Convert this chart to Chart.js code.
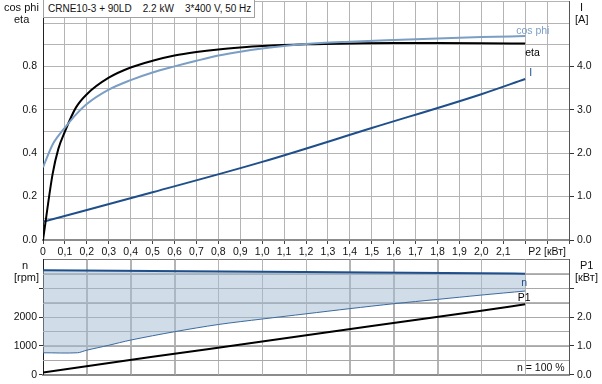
<!DOCTYPE html>
<html>
<head>
<meta charset="utf-8">
<script src="https://cdn.jsdelivr.net/npm/chart.js@4.4.1/dist/chart.umd.min.js"></script>
<style>
  body { margin: 0; background: #fff; font-family: "Liberation Sans", Arial, sans-serif; font-size: 10.5px; color: #111; }
  #wrap { position: relative; width: 602px; height: 384px; overflow: hidden; }
  canvas { position: absolute; left: 0; }
  .t { position: absolute; line-height: 12px; white-space: pre; font-size: 11px; }
  #title { position: absolute; left: 43px; top: 0; height: 17px; padding: 0 3px 0 4px; border: 1px solid #a0a0a0; border-top: none; background: #fff; line-height: 17px; white-space: pre; font-size: 10px; }
</style>
</head>
<body>
<div id="wrap">
  <canvas id="topChart" width="602" height="270" style="top:-8px"></canvas>
  <canvas id="bottomChart" width="602" height="134" style="top:250px"></canvas>
  <div id="title">CRNE10-3 + 90LD    2.2 kW    3*400 V, 50 Hz</div>
  <div class="t" style="left:4px;top:1px">cos phi</div>
  <div class="t" style="left:14px;top:13px">eta</div>
  <div class="t" style="left:580px;top:1px">I</div>
  <div class="t" style="left:575px;top:13px">[A]</div>
  <div class="t" style="left:22px;top:259px">n</div>
  <div class="t" style="left:14px;top:271px">[rpm]</div>
  <div class="t" style="left:580px;top:259px">P1</div>
  <div class="t" style="left:575px;top:271px">[кВт]</div>
  <div class="t" style="left:517px;top:361px;font-size:10.5px">n = 100 %</div>
</div>
<script>
// P2 [kW] points for the upper chart
const p2 = [0, 0.044, 0.07, 0.1, 0.15, 0.2, 0.3, 0.4, 0.5, 0.6, 0.7, 0.8, 0.9, 1.0, 1.2, 1.4, 1.6, 1.8, 2.0, 2.2];
const eta = [0, 0.305, 0.42, 0.50, 0.61, 0.672, 0.748, 0.795, 0.826, 0.85, 0.866, 0.878, 0.887, 0.894, 0.902, 0.906, 0.908, 0.908, 0.907, 0.905];
const cosPhi = [0.335, 0.44, 0.48, 0.518, 0.578, 0.627, 0.693, 0.737, 0.772, 0.80, 0.826, 0.85, 0.868, 0.882, 0.903, 0.914, 0.922, 0.929, 0.935, 0.94];

const iP2 = [0, 0.5, 1.0, 1.5, 2.0, 2.2];
const current = [0.42, 1.1, 1.8, 2.58, 3.36, 3.71];

// lower chart
const nP2 = [0, 0.5, 1.0, 1.5, 2.0, 2.2];
const speed = [3620, 3595, 3570, 3545, 3515, 3500];
const minP2 = [0, 0.157, 0.2, 0.3, 0.4, 0.6, 0.8, 1.0, 1.2, 1.4, 1.6, 1.8, 2.0, 2.2];
const minSpeed = [760, 760, 850, 1020, 1200, 1490, 1740, 1930, 2110, 2290, 2460, 2610, 2760, 2900];
const p1P2 = [0, 0.5, 1.0, 1.5, 2.0, 2.2];
const p1 = [0.08, 0.62, 1.15, 1.69, 2.22, 2.44];

const leftTicks = [0, 0.2, 0.4, 0.6, 0.8];
const currentTicks = [0, 1, 2, 3, 4];
const rpmTicks = [0, 1000, 2000];
const p1Ticks = [0, 1, 2];

Chart.defaults.font.family = '"Liberation Sans", Arial, sans-serif';
Chart.defaults.font.size = 10.5;
Chart.defaults.color = '#111';

const pts = (xs, ys) => xs.map((x, i) => ({ x: x, y: ys[i] }));
const near = (a, b) => Math.abs(a - b) < 1e-6;
const CLEAR = 'rgba(0,0,0,0)';
const GRID = '#b4b4b4';

const endLabels = {
    id: 'endLabels',
    afterDatasetsDraw(chart) {
        const ctx = chart.ctx;
        chart.data.datasets.forEach((ds, i) => {
            if (!ds.endLabel) return;
            const meta = chart.getDatasetMeta(i);
            const pt = meta.data[meta.data.length - 1];
            ctx.save();
            ctx.font = '10.5px "Liberation Sans", Arial, sans-serif';
            ctx.fillStyle = ds.endLabel.color;
            ctx.textAlign = ds.endLabel.align;
            ctx.textBaseline = 'middle';
            ctx.fillText(ds.endLabel.text, pt.x + ds.endLabel.dx, pt.y + ds.endLabel.dy);
            ctx.restore();
        });
    }
};

// the lower chart's grid would not show, so stroke it from the scale ticks
const tickGrid = {
    id: 'tickGrid',
    beforeDatasetsDraw(chart) {
        const { ctx, chartArea: a, scales } = chart;
        ctx.save();
        ctx.lineWidth = 1;
        ctx.strokeStyle = GRID;
        ctx.beginPath();
        scales.x.ticks.forEach(t => {
            const x = Math.round(scales.x.getPixelForValue(t.value)) + 0.5;
            if (x > a.left + 1 && x < a.right - 1) { ctx.moveTo(x, a.top); ctx.lineTo(x, a.bottom); }
        });
        ctx.stroke();
        ctx.strokeStyle = '#a8a8a8';
        ctx.beginPath();
        scales.y1.ticks.forEach(t => {
            const y = Math.round(scales.y1.getPixelForValue(t.value)) + 0.5;
            if (y > a.top + 1 && y < a.bottom - 1) { ctx.moveTo(a.left, y); ctx.lineTo(a.right, y); }
        });
        ctx.stroke();
        ctx.restore();
    }
};

function xLabel(v) {
    const k = Math.round(v * 10);
    if (k === 0) return '0';
    if (k === 23) return 'P2 [кВт]';
    if (k > 21) return '';
    return (k / 10).toFixed(1).replace('.', ',');
}

const line = (data, color, width, axis, extra) => Object.assign({
    data: data, borderColor: color, borderWidth: width, pointRadius: 0,
    cubicInterpolationMode: 'monotone', fill: false, yAxisID: axis
}, extra || {});

new Chart(document.getElementById('topChart'), {
    type: 'line',
    data: {
        datasets: [
            line(pts(p2, cosPhi), '#7b9ec4', 2, 'y', { endLabel: { text: 'cos phi', color: '#7b9ec4', align: 'left', dx: -9, dy: -5 } }),
            line(pts(p2, eta), '#000', 2, 'y', { endLabel: { text: 'eta', color: '#000', align: 'left', dx: 0, dy: 9 } }),
            line(pts(iP2, current), '#1f4f8b', 2, 'y1', { endLabel: { text: 'I', color: '#1f4f8b', align: 'left', dx: 4, dy: -6 } })
        ]
    },
    options: {
        responsive: false, animation: false, devicePixelRatio: 1,
        layout: { padding: 0 },
        plugins: { legend: { display: false }, tooltip: { enabled: false } },
        scales: {
            x: {
                type: 'linear', min: 0, max: 2.4,
                ticks: { stepSize: 0.1, autoSkip: false, maxRotation: 0, padding: 2, callback: xLabel },
                grid: { color: GRID, lineWidth: 1, tickLength: 4, tickColor: '#444' },
                border: { color: '#8c8c8c', width: 2 },
                afterFit: s => { s.height = 22; }
            },
            y: {
                position: 'left', min: 0, max: 1.1,
                ticks: { stepSize: 0.1, autoSkip: false, padding: 3,
                    callback: v => leftTicks.some(t => near(t, v)) ? v.toFixed(1) : '' },
                grid: { lineWidth: 1, color: GRID, tickLength: 3, tickColor: CLEAR },
                border: { color: '#222', width: 1 },
                afterFit: s => { s.width = 43; }
            },
            y1: {
                position: 'right', min: 0, max: 5.5,
                ticks: { stepSize: 0.5, autoSkip: false, padding: 3,
                    callback: v => currentTicks.some(t => near(t, v)) ? v.toFixed(1) : '' },
                grid: { drawOnChartArea: false, tickLength: 5,
                    tickColor: c => c.tick && currentTicks.some(t => near(t, c.tick.value)) ? '#333' : CLEAR },
                border: { color: '#555', width: 1 },
                afterFit: s => { s.width = 33; }
            }
        }
    },
    plugins: [endLabels]
});

new Chart(document.getElementById('bottomChart'), {
    type: 'line',
    data: {
        datasets: [
            line(pts(minP2, minSpeed), '#3b6aa0', 1, 'y', { cubicInterpolationMode: 'default', tension: 0.3 }),
            line(pts(nP2, speed), '#1f4f8b', 2, 'y', { fill: { target: '-1' }, backgroundColor: 'rgba(161,185,209,0.5)',
                endLabel: { text: 'n', color: '#1f4f8b', align: 'center', dx: -1, dy: 9 } }),
            line(pts(p1P2, p1), '#000', 2, 'y1', { endLabel: { text: 'P1', color: '#000', align: 'center', dx: -1, dy: -6 } })
        ]
    },
    options: {
        responsive: false, animation: false, devicePixelRatio: 1,
        layout: { padding: { top: 8 } },
        plugins: { legend: { display: false }, tooltip: { enabled: false }, filler: { propagate: false } },
        scales: {
            x: {
                type: 'linear', min: 0, max: 2.4,
                ticks: { stepSize: 0.2, autoSkip: false, display: false },
                grid: { color: GRID, lineWidth: 1, drawTicks: false },
                border: { color: '#8c8c8c', width: 2 },
                afterFit: s => { s.height = 9; }
            },
            y: {
                position: 'left', min: 0, max: 4000,
                ticks: { stepSize: 500, autoSkip: false, padding: 2,
                    callback: v => rpmTicks.some(t => near(t, v)) ? String(v) : '' },
                grid: { lineWidth: 1,
                    color: c => c.tick && near(c.tick.value, 4000) ? '#7a7a7a' : GRID, tickLength: 4,
                    tickColor: c => c.tick && c.tick.value % 1000 === 0 && c.tick.value < 4000 ? '#333' : CLEAR },
                border: { color: '#222', width: 1 },
                afterFit: s => { s.width = 43; }
            },
            y1: {
                position: 'right', min: 0, max: 4,
                ticks: { stepSize: 0.5, autoSkip: false, padding: 3,
                    callback: v => p1Ticks.some(t => near(t, v)) ? v.toFixed(1) : '' },
                grid: { drawOnChartArea: false, tickLength: 5,
                    tickColor: c => c.tick && near(c.tick.value, Math.round(c.tick.value)) && c.tick.value < 4 ? '#333' : CLEAR },
                border: { color: '#555', width: 1 },
                afterFit: s => { s.width = 33; }
            }
        }
    },
    plugins: [tickGrid, endLabels]
});
</script>
</body>
</html>
